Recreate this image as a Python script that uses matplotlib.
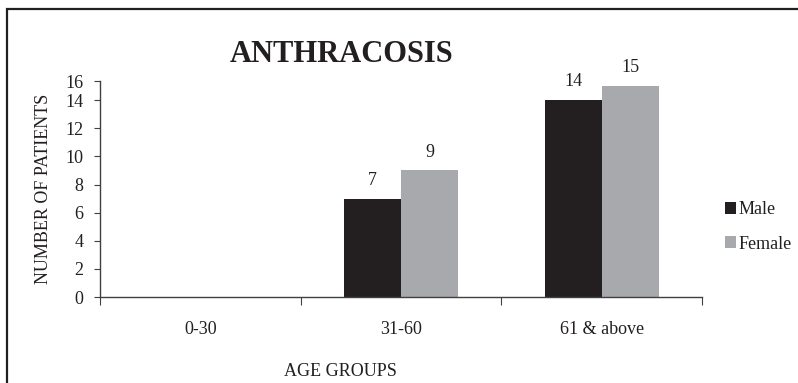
import matplotlib.pyplot as plt
from matplotlib.patches import Rectangle

age_groups = ["0-30", "31-60", "61 & above"]
male = [0, 7, 14]
female = [0, 9, 15]
series_names = ["Male", "Female"]
ytick_labels = ["0", "2", "4", "6", "8", "10", "12", "14", "16"]

plt.rcParams['font.family'] = ['Liberation Serif', 'DejaVu Serif']
ink = '#231f20'
male_c = '#231f20'
female_c = '#a7a9ac'
fs = 13

W, H = 798, 383
fig = plt.figure(figsize=(W/100, H/100), dpi=100)
ax = fig.add_axes([100/W, 1-297/H, 602/W, 216/H])

bw = 0.284
xs = [i + 0.5 for i in range(len(age_groups))]
b1 = ax.bar([x - bw/2 for x in xs], male, width=bw, color=male_c, label=series_names[0])
b2 = ax.bar([x + bw/2 for x in xs], female, width=bw, color=female_c, label=series_names[1])

for bars, vals in ((b1, male), (b2, female)):
    for r, v in zip(bars, vals):
        if v > 0:
            ax.annotate(str(v), (r.get_x() + r.get_width()/2, v), xytext=(0, 7),
                        textcoords='offset points', ha='center', va='bottom',
                        fontsize=fs, color=ink)

ytop = 15.36
ax.set_ylim(0, ytop)
ax.set_xlim(0, len(age_groups))
ax.set_yticks(list(range(0, 15, 2)) + [ytop])
ax.set_yticklabels(ytick_labels)
ax.set_xticks(range(len(age_groups) + 1))
ax.set_xticklabels([])
ax.set_xticks(xs, minor=True)
ax.set_xticklabels(age_groups, minor=True)
ax.tick_params(axis='x', which='minor', length=0, pad=17, labelsize=fs, labelcolor=ink)
ax.tick_params(axis='x', which='major', length=6, direction='out', color='#404040')
ax.tick_params(axis='y', length=4, pad=8, labelsize=fs, labelcolor=ink, color='#404040')
for s in ('top', 'right'):
    ax.spines[s].set_visible(False)
for s in ('left', 'bottom'):
    ax.spines[s].set_color('#404040')
    ax.spines[s].set_linewidth(1)

fig.text(342/W, 1-55/H, "ANTHRACOSIS", ha='center', va='center',
         fontsize=22, fontweight='bold', color=ink)
fig.text(340/W, 1-372/H, "AGE GROUPS", ha='center', va='center', fontsize=fs, color=ink)
fig.text(44/W, 1-189/H, "NUMBER OF PATIENTS", ha='center', va='center',
         rotation=90, fontsize=fs, color=ink)

fig.legend(loc='center left', bbox_to_anchor=(709/W, 1-227/H), frameon=False,
           fontsize=fs, handlelength=0.6, handleheight=0.6, handletextpad=0.15,
           labelspacing=0.95, labelcolor=ink)

fig.patches.append(Rectangle((6.5/W, -0.1), 1.2, 1 - 9/H + 0.1, transform=fig.transFigure,
                             fill=False, edgecolor=ink, linewidth=1.6))

plt.savefig("out.png", dpi=100)
